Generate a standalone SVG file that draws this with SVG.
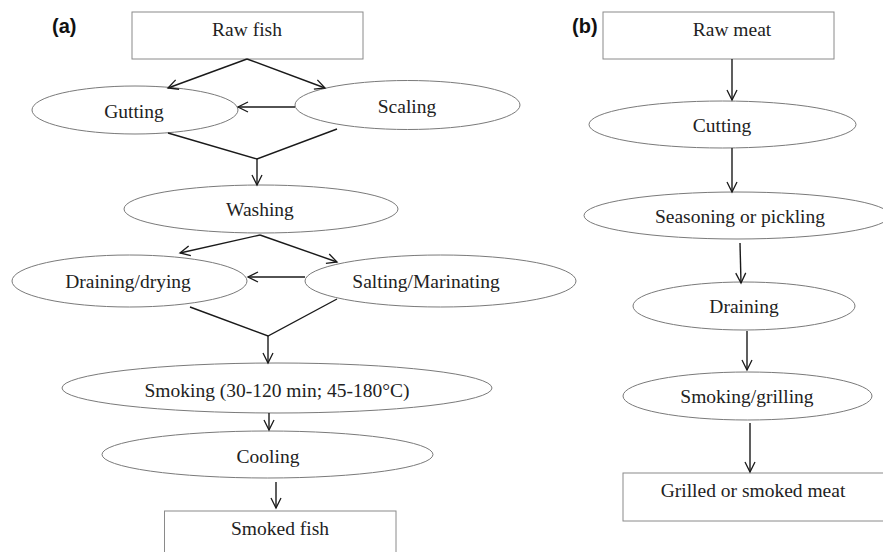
<svg xmlns="http://www.w3.org/2000/svg" width="883" height="552" viewBox="0 0 883 552">
<defs>
<marker id="ah" markerUnits="userSpaceOnUse" markerWidth="14" markerHeight="14" refX="11" refY="6" orient="auto">
<path d="M1,1 L11,6 L1,11" fill="none" stroke="#1a1a1a" stroke-width="1.3"/>
</marker>
<style>
.box{fill:#fff;stroke:#8a8a8a;stroke-width:1}
.ell{fill:#fff;stroke:#7a7a7a;stroke-width:1}
.t{font-size:19.5px;fill:#222;text-anchor:middle}
.lab{font-size:20px;font-weight:bold;fill:#111}
.c{fill:none;stroke:#1a1a1a;stroke-width:1.4}
.a{marker-end:url(#ah)}
</style>
</defs>
<rect width="883" height="552" fill="#fff"/>
<g font-family="Liberation Sans, Arial, sans-serif">
<text class="lab" x="52" y="33">(a)</text>
<text class="lab" x="572" y="33">(b)</text>
</g>
<g font-family="Liberation Serif, Times New Roman, serif">
<g id="raw-fish"><rect class="box" x="132" y="12" width="231" height="47"/><text class="t" x="247" y="36">Raw fish</text></g>
<g id="gutting"><ellipse class="ell" cx="135" cy="110" rx="103" ry="24"/><text class="t" x="134" y="118">Gutting</text></g>
<g id="scaling"><ellipse class="ell" cx="407.5" cy="105" rx="112.5" ry="24.5"/><text class="t" x="407" y="113">Scaling</text></g>
<g id="washing"><ellipse class="ell" cx="261" cy="209" rx="137" ry="24"/><text class="t" x="260" y="216">Washing</text></g>
<g id="draining-drying"><ellipse class="ell" cx="129.5" cy="281" rx="117.5" ry="26"/><text class="t" x="128" y="288">Draining/drying</text></g>
<g id="salting"><ellipse class="ell" cx="440.5" cy="281" rx="135.5" ry="26"/><text class="t" x="426" y="288">Salting/Marinating</text></g>
<g id="smoking"><ellipse class="ell" cx="277" cy="388" rx="215" ry="25"/><text class="t" x="277" y="397">Smoking (30-120 min; 45-180°C)</text></g>
<g id="cooling"><ellipse class="ell" cx="267.5" cy="454.5" rx="165.5" ry="23.5"/><text class="t" x="268" y="463">Cooling</text></g>
<g id="smoked-fish"><rect class="box" x="164.5" y="511" width="231.5" height="50"/><text class="t" x="280" y="535">Smoked fish</text></g>

<g id="raw-meat"><rect class="box" x="603" y="12" width="231" height="47"/><text class="t" x="732" y="36">Raw meat</text></g>
<g id="cutting"><ellipse class="ell" cx="722.5" cy="124.5" rx="133.5" ry="23.5"/><text class="t" x="722" y="132">Cutting</text></g>
<g id="seasoning"><ellipse class="ell" cx="737" cy="215.5" rx="153" ry="23.5"/><text class="t" x="740" y="223">Seasoning or pickling</text></g>
<g id="draining"><ellipse class="ell" cx="744" cy="306" rx="111" ry="24"/><text class="t" x="744" y="313">Draining</text></g>
<g id="smoking-grilling"><ellipse class="ell" cx="747.5" cy="396" rx="124.5" ry="24"/><text class="t" x="747" y="403">Smoking/grilling</text></g>
<g id="grilled-meat"><rect class="box" x="623" y="473" width="262" height="48"/><text class="t" x="753" y="497">Grilled or smoked meat</text></g>
</g>
<g id="connectors">
<path class="c a" d="M247,59 L168,88"/>
<path class="c a" d="M247,59 L325,88"/>
<path class="c a" d="M295,107 L238,107"/>
<path class="c" d="M168,133 L257,159 L337,129"/>
<path class="c a" d="M257,159 L257,185"/>
<path class="c a" d="M260,235 L180,253"/>
<path class="c a" d="M260,235 L337,262"/>
<path class="c a" d="M305,277 L248,277"/>
<path class="c" d="M190,307 L268,336 L337,299"/>
<path class="c a" d="M268,336 L268,363"/>
<path class="c a" d="M269,413 L269,430"/>
<path class="c a" d="M276,482 L276,508"/>
<path class="c a" d="M732,59 L732,100"/>
<path class="c a" d="M732,148 L732,192"/>
<path class="c a" d="M740,243 L741,283"/>
<path class="c a" d="M747,331 L747,370"/>
<path class="c a" d="M750,423 L750,472"/>
</g>
</svg>
